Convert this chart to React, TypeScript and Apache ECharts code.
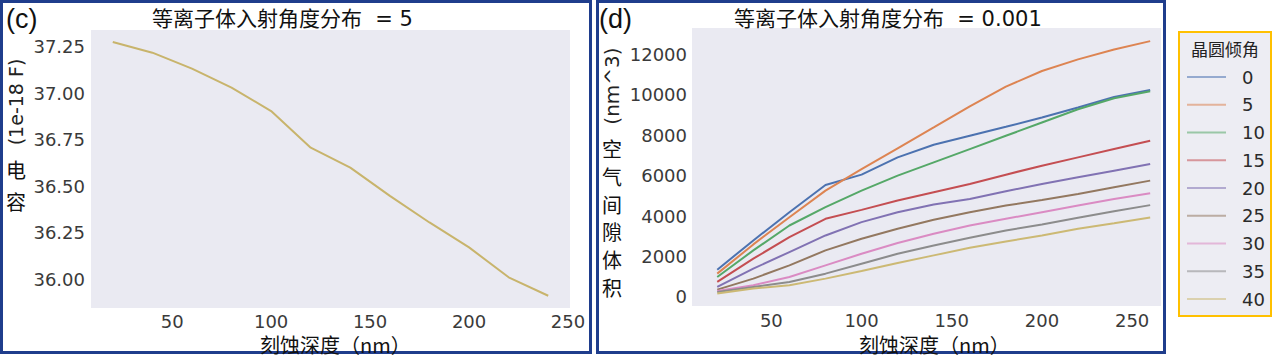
import React, { useEffect, useRef } from "react";
import * as echarts from "echarts";

// ---- data (c) ----
const depthC = [20, 40, 60, 80, 100, 120, 140, 160, 180, 200, 220, 240];
const capacitance = [37.275, 37.218, 37.132, 37.03, 36.904, 36.707, 36.6, 36.448, 36.305, 36.171, 36.01, 35.911];

// ---- data (d) ----
const depthD = [20, 40, 60, 80, 100, 120, 140, 160, 180, 200, 220, 240, 260];
const tiltAngles = ["0", "5", "10", "15", "20", "25", "30", "35", "40"];
const vol0 = [1347, 2793, 4190, 5537, 6046, 6900, 7525, 7969, 8412, 8872, 9365, 9891, 10236];
const vol5 = [1150, 2596, 3943, 5258, 6320, 7350, 8380, 9420, 10400, 11172, 11747, 12240, 12651];
const vol10 = [986, 2300, 3532, 4436, 5258, 5997, 6654, 7311, 7969, 8626, 9283, 9825, 10170];
const vol15 = [740, 1890, 2957, 3861, 4305, 4765, 5175, 5586, 6046, 6490, 6901, 7311, 7722];
const vol20 = [493, 1397, 2218, 3040, 3697, 4190, 4568, 4847, 5225, 5586, 5915, 6243, 6572];
const vol25 = [361, 904, 1561, 2300, 2875, 3368, 3812, 4190, 4518, 4798, 5093, 5422, 5751];
const vol30 = [296, 575, 986, 1561, 2136, 2662, 3122, 3532, 3861, 4190, 4518, 4847, 5126];
const vol35 = [246, 493, 739, 1150, 1643, 2136, 2547, 2925, 3286, 3582, 3910, 4239, 4540];
const vol40 = [164, 411, 575, 904, 1282, 1676, 2054, 2432, 2744, 3040, 3368, 3647, 3930];
const volumes = [vol0, vol5, vol10, vol15, vol20, vol25, vol30, vol35, vol40];

const xTicks = [50, 100, 150, 200, 250];
const yTicksC = [36.0, 36.25, 36.5, 36.75, 37.0, 37.25];
const yTicksD = [0, 2000, 4000, 6000, 8000, 10000, 12000];

const palette = ["#4C72B0", "#DD8452", "#55A868", "#C44E52", "#8172B3", "#937860", "#DA8BC3", "#8C8C8C", "#CCB974"];
const lineC = "#C8B46C";

const tickFont = { fontFamily: "DejaVu Sans", fontSize: 18, lineHeight: 18, color: "#3a3a3a" };
const cjk = "'Noto Sans CJK SC', 'DejaVu Sans'";
const mixed = "'DejaVu Sans', 'Noto Sans CJK SC'";
const border = "#1F3D8C";

export default function App() {
  const ref = useRef<HTMLDivElement>(null);
  useEffect(() => {
    document.body.style.margin = "0";
    const chart = echarts.init(ref.current!, null, { renderer: "svg" });
    const axisCommon = {
      axisLine: { show: false },
      axisTick: { show: false },
      splitLine: { show: false },
    };
    const option: any = {
      animation: false,
      backgroundColor: "#ffffff",
      grid: [
        { left: 91, right: 1280 - 570, top: 30, bottom: 358 - 308, show: true, backgroundColor: "#EAEAF2", borderWidth: 0 },
        { left: 692, right: 1280 - 1161, top: 28, bottom: 358 - 306, show: true, backgroundColor: "#EAEAF2", borderWidth: 0 },
      ],
      xAxis: [
        {
          gridIndex: 0, type: "value", min: 9, max: 251, ...axisCommon,
          axisLabel: { ...tickFont, margin: 4, customValues: xTicks },
        },
        {
          gridIndex: 1, type: "value", min: 6, max: 266, ...axisCommon,
          axisLabel: { ...tickFont, margin: 5, customValues: xTicks },
        },
      ],
      yAxis: [
        {
          gridIndex: 0, type: "value", min: 35.845, max: 37.34, ...axisCommon,
          axisLabel: { ...tickFont, margin: 6, customValues: yTicksC, formatter: (v: number) => v.toFixed(2) },
        },
        {
          gridIndex: 1, type: "value", min: -450, max: 13300, ...axisCommon,
          axisLabel: { ...tickFont, margin: 5, customValues: yTicksD, formatter: (v: number) => String(v) },
        },
      ],
      legend: {
        data: tiltAngles,
        orient: "vertical",
        left: 1187,
        top: 68,
        padding: 0,
        icon: "rect",
        itemWidth: 39,
        itemHeight: 2,
        itemGap: 9.75,
        selectedMode: false,
        itemStyle: { opacity: 0.55 },
        textStyle: { fontFamily: "DejaVu Sans", fontSize: 18, lineHeight: 18, color: "#2a2a2a", padding: [0, 0, 0, 11] },
      },
      series: [
        {
          name: "c",
          type: "line",
          xAxisIndex: 0,
          yAxisIndex: 0,
          data: depthC.map((d, i) => [d, capacitance[i]]),
          showSymbol: false,
          lineStyle: { color: lineC, width: 2 },
          itemStyle: { color: lineC },
        },
        ...tiltAngles.map((a, k) => ({
          name: a,
          type: "line",
          xAxisIndex: 1,
          yAxisIndex: 1,
          data: depthD.map((d, i) => [d, volumes[k][i]]),
          showSymbol: false,
          lineStyle: { color: palette[k], width: 2 },
          itemStyle: { color: palette[k] },
        })),
      ],
      graphic: [
        // panel borders
        { type: "rect", shape: { x: 1.5, y: 1.5, width: 589, height: 351 }, style: { fill: "none", stroke: border, lineWidth: 3 }, z: 10 },
        { type: "rect", shape: { x: 597.5, y: 1.5, width: 567, height: 351 }, style: { fill: "none", stroke: border, lineWidth: 3 }, z: 10 },
        // legend box
        { type: "rect", shape: { x: 1179, y: 32, width: 92, height: 284 }, style: { fill: "#EDEDF3", stroke: "#FFC000", lineWidth: 2 }, z: -1 },
        { type: "text", x: 1225, y: 48, style: { text: "晶圆倾角", font: `17px ${cjk}`, fill: "#222", align: "center", verticalAlign: "middle" }, z: 10 },
        // panel labels
        { type: "text", x: 6, y: 19, style: { text: "(c)", font: "27px 'Liberation Sans'", fill: "#111", verticalAlign: "middle" }, z: 10 },
        { type: "text", x: 599, y: 19, style: { text: "(d)", font: "27px 'Liberation Sans'", fill: "#111", verticalAlign: "middle" }, z: 10 },
        // titles
        { type: "text", x: 152, y: 19, style: { text: "等离子体入射角度分布  = 5", font: `21px ${mixed}`, fill: "#111", verticalAlign: "middle" }, z: 10 },
        { type: "text", x: 734, y: 19, style: { text: "等离子体入射角度分布  = 0.001", font: `21px ${mixed}`, fill: "#111", verticalAlign: "middle" }, z: 10 },
        // x axis names
        { type: "text", x: 260, y: 344, style: { text: "刻蚀深度（nm）", font: `20px ${cjk}`, fill: "#111", verticalAlign: "middle" }, z: 10 },
        { type: "text", x: 859, y: 344, style: { text: "刻蚀深度（nm）", font: `20px ${cjk}`, fill: "#111", verticalAlign: "middle" }, z: 10 },
        // y axis names (c)
        { type: "text", x: 16, y: 102, rotation: Math.PI / 2, style: { text: "(1e-18 F)", font: "19px 'DejaVu Sans'", fill: "#222", align: "center", verticalAlign: "middle" }, z: 10 },
        { type: "text", x: 16, y: 185, style: { text: "电\n容", font: `20px ${cjk}`, lineHeight: 32, fill: "#111", align: "center", verticalAlign: "middle" }, z: 10 },
        // y axis names (d)
        { type: "text", x: 612, y: 86, rotation: Math.PI / 2, style: { text: "(nm^3)", font: "20px 'DejaVu Sans'", fill: "#222", align: "center", verticalAlign: "middle" }, z: 10 },
        { type: "text", x: 612, y: 218, style: { text: "空\n气\n间\n隙\n体\n积", font: `20px ${cjk}`, lineHeight: 27.8, fill: "#111", align: "center", verticalAlign: "middle" }, z: 10 },
      ],
    };
    chart.setOption(option);
    return () => chart.dispose();
  }, []);
  return <div ref={ref} style={{ position: "fixed", left: 0, top: 0, width: 1280, height: 358 }} />;
}
